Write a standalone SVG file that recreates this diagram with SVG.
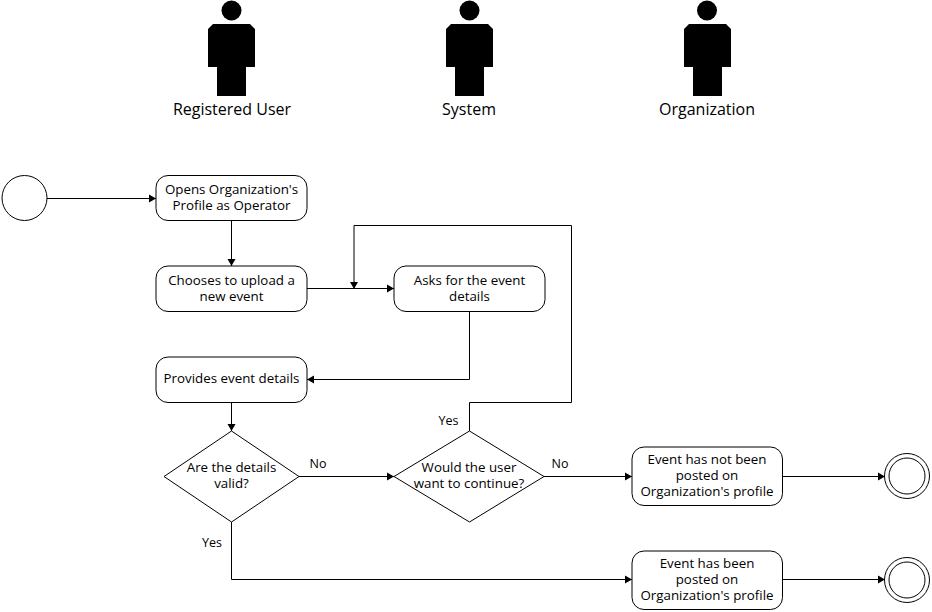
<svg xmlns="http://www.w3.org/2000/svg" width="932" height="612" viewBox="0 0 932 612">
<defs>
<marker id="arrow" markerUnits="userSpaceOnUse" markerWidth="8" markerHeight="10" refX="7" refY="5" orient="auto"><path d="M0 1 L7 5 L0 9 Z" fill="#000"/></marker>
<path id="person" d="M-18.500 24 H18.500 L23.500 29 V67 H14.500 V96 H-14.500 V67 H-23.500 V29 Z" fill="#000"/>
</defs>
<style>
text{font-family:"Open Sans","Noto Sans",sans-serif;font-size:13.33px;fill:#000;text-anchor:middle}
.big{font-size:16px}
.lab{font-size:12.5px}
.s{fill:#fff;stroke:#000;stroke-width:1}
.c{fill:none;stroke:#000;stroke-width:1;marker-end:url(#arrow)}
</style>
<rect width="932" height="612" fill="#fff"/>
<g id="connectors">
<path class="c" d="M47 198.500H156"/>
<path class="c" d="M231.500 221V266"/>
<path class="c" d="M307 288.500H394"/>
<path class="c" d="M469.500 312V379.500H307"/>
<path class="c" d="M231.500 403V431"/>
<path class="c" d="M299 476.500H394"/>
<path class="c" d="M544 476.500H632"/>
<path class="c" d="M782 476.500H885"/>
<path class="c" d="M231.500 522V579.500H632"/>
<path class="c" d="M782 579.500H885"/>
<path class="c" d="M469.500 431V402.500H571.500V225.500H354V289"/>
</g>
<g id="actor-user"><use href="#person" x="231.500"/><circle cx="231.500" cy="10.500" r="10"/><text class="big" x="232" y="115">Registered User</text></g>
<g id="actor-system"><use href="#person" x="469.500"/><circle cx="469.500" cy="10.500" r="10"/><text class="big" x="469" y="115">System</text></g>
<g id="actor-org"><use href="#person" x="707.500"/><circle cx="707" cy="10.500" r="10"/><text class="big" x="707" y="115">Organization</text></g>
<g id="start"><circle class="s" cx="24.500" cy="198" r="22.500"/></g>
<g id="opens"><rect class="s" x="156" y="175.500" width="151" height="45" rx="12"/><text x="231.500" y="194">Opens Organization's</text><text x="231.500" y="210">Profile as Operator</text></g>
<g id="chooses"><rect class="s" x="156" y="266" width="151" height="45.500" rx="12"/><text x="231.500" y="285">Chooses to upload a</text><text x="231.500" y="301">new event</text></g>
<g id="asks"><rect class="s" x="394" y="266" width="151" height="45.500" rx="12"/><text x="469.500" y="285">Asks for the event</text><text x="469.500" y="301">details</text></g>
<g id="provides"><rect class="s" x="156" y="357" width="151" height="45.500" rx="12"/><text x="231.500" y="383">Provides event details</text></g>
<g id="valid"><path class="s" d="M231.500 431L299 476.500L231.500 522L164 476.500Z"/><text x="231.500" y="472">Are the details</text><text x="231.500" y="488">valid?</text></g>
<g id="continue"><path class="s" d="M469.500 431L544 476.500L469.500 522L394 476.500Z"/><text x="469" y="472">Would the user</text><text x="469" y="488">want to continue?</text></g>
<g id="not-posted"><rect class="s" x="632" y="447" width="150.500" height="58.500" rx="12"/><text x="707" y="464">Event has not been</text><text x="707" y="480">posted on</text><text x="707" y="496">Organization's profile</text></g>
<g id="posted"><rect class="s" x="632" y="551" width="150.500" height="58.500" rx="12"/><text x="707" y="568">Event has been</text><text x="707" y="584">posted on</text><text x="707" y="600">Organization's profile</text></g>
<g id="end1"><circle class="s" cx="907" cy="476" r="22.500"/><circle class="s" cx="907" cy="476" r="18"/></g>
<g id="end2"><circle class="s" cx="907" cy="580" r="22.500"/><circle class="s" cx="907" cy="580" r="18"/></g>
<g id="labels">
<text class="lab" x="318" y="468">No</text><text class="lab" x="560" y="468">No</text><text class="lab" x="448.500" y="425">Yes</text><text class="lab" x="212" y="547">Yes</text>
</g>
</svg>
